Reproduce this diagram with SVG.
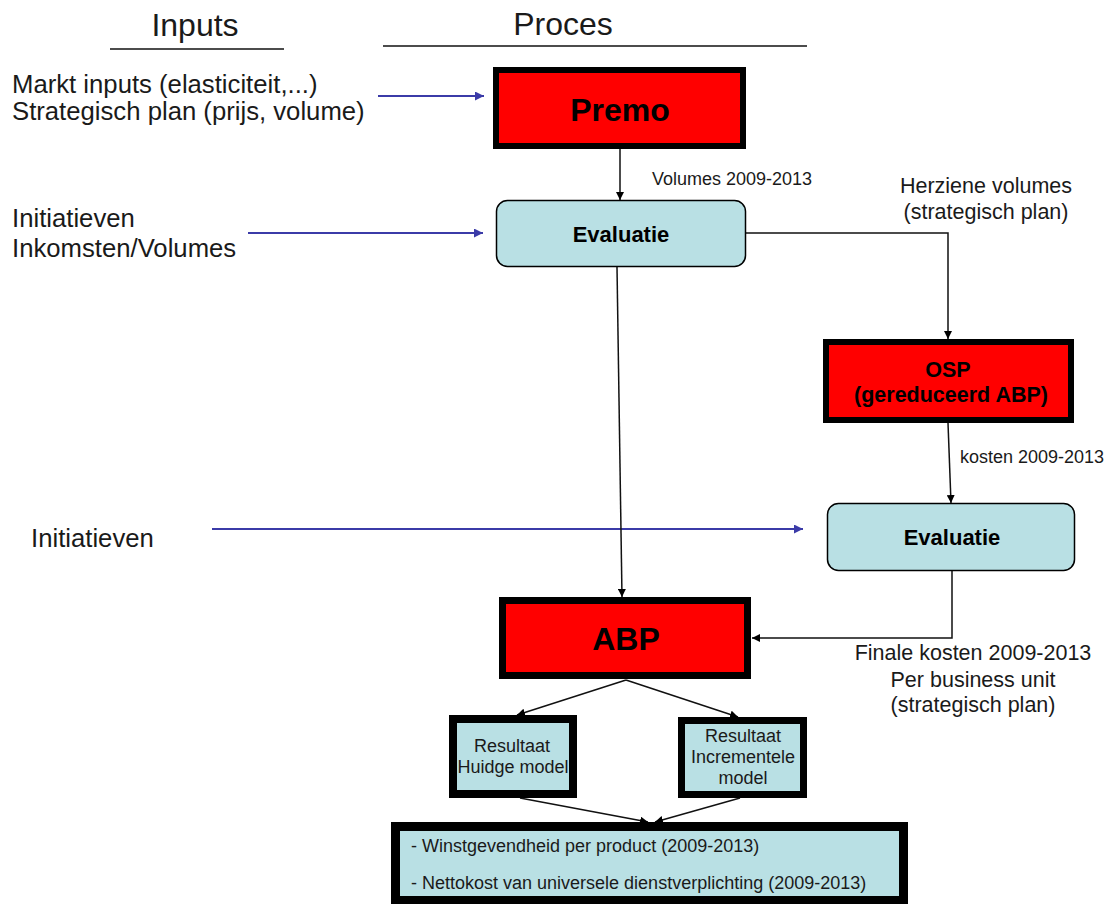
<svg xmlns="http://www.w3.org/2000/svg" width="1111" height="904" viewBox="0 0 1111 904">
<style>
text{font-family:"Liberation Sans",Arial,sans-serif;fill:#1a1a1a}
.h{font-size:32px}
.in{font-size:25.7px}
.lbl{font-size:21.5px}
.sm{font-size:18px}
.b{font-weight:bold;fill:#000}
.red{fill:#ff0000;stroke:#000}
.blue{fill:#b9e0e4;stroke:#000}
.con{fill:none;stroke:#111;stroke-width:1.5}
.bl{fill:none;stroke:#3b3ba8;stroke-width:2}
</style>
<defs>
<marker id="ah" viewBox="0 0 10 10" refX="10" refY="5" markerWidth="8" markerHeight="8" markerUnits="userSpaceOnUse" orient="auto"><path d="M0,0 L10,5 L0,10 z" fill="#000"/></marker>
<marker id="ab" viewBox="0 0 10 10" refX="10" refY="5" markerWidth="10" markerHeight="9" markerUnits="userSpaceOnUse" orient="auto"><path d="M0,0 L10,5 L0,10 z" fill="#3b3ba8"/></marker>
</defs>
<rect width="1111" height="904" fill="#fff"/>
<g id="headers">
<text class="h" x="195" y="36" text-anchor="middle">Inputs</text>
<line x1="110" y1="49" x2="284" y2="49" stroke="#111" stroke-width="1.5"/>
<text class="h" x="563" y="35" text-anchor="middle">Proces</text>
<line x1="383" y1="46" x2="807" y2="46" stroke="#111" stroke-width="1.5"/>
</g>
<g id="inputs">
<text class="in" x="12" y="93">Markt inputs (elasticiteit,...)</text>
<text class="in" x="12" y="120">Strategisch plan (prijs, volume)</text>
<text class="in" x="12" y="227">Initiatieven</text>
<text class="in" x="12" y="257">Inkomsten/Volumes</text>
<text class="in" x="31" y="547">Initiatieven</text>
</g>
<g id="connectors">
<line class="bl" x1="378" y1="96" x2="484" y2="96" marker-end="url(#ab)"/>
<line class="bl" x1="248" y1="233" x2="483" y2="233" marker-end="url(#ab)"/>
<line class="bl" x1="212" y1="529" x2="803" y2="529" marker-end="url(#ab)"/>
<line class="con" x1="620" y1="149" x2="620" y2="200" marker-end="url(#ah)"/>
<polyline class="con" points="746,233 948,233 948,339" marker-end="url(#ah)"/>
<line class="con" x1="617" y1="267" x2="622" y2="597" marker-end="url(#ah)"/>
<line class="con" x1="948" y1="423" x2="951" y2="503" marker-end="url(#ah)"/>
<polyline class="con" points="952,571 952,638 752,638" marker-end="url(#ah)"/>
<line class="con" x1="626" y1="680" x2="517" y2="715" marker-end="url(#ah)"/>
<line class="con" x1="626" y1="680" x2="738" y2="717" marker-end="url(#ah)"/>
<line class="con" x1="520" y1="798" x2="648" y2="822" marker-end="url(#ah)"/>
<line class="con" x1="740" y1="798" x2="655" y2="822" marker-end="url(#ah)"/>
<text class="sm" x="652" y="185">Volumes 2009-2013</text>
<text class="lbl" x="986" y="193" text-anchor="middle">Herziene volumes</text>
<text class="lbl" x="986" y="219" text-anchor="middle">(strategisch plan)</text>
<text class="sm" x="960" y="463">kosten 2009-2013</text>
<text class="lbl" x="973" y="660" text-anchor="middle">Finale kosten 2009-2013</text>
<text class="lbl" x="973" y="687" text-anchor="middle">Per business unit</text>
<text class="lbl" x="973" y="712" text-anchor="middle">(strategisch plan)</text>
</g>
<g id="premo">
<rect class="red" x="496" y="70" width="247" height="76" stroke-width="6"/>
<text class="b" x="620" y="121" text-anchor="middle" font-size="32">Premo</text>
</g>
<g id="evaluatie1">
<rect class="blue" x="496.5" y="200.5" width="249" height="66" rx="11" stroke-width="1.5"/>
<text class="b" x="621" y="242" text-anchor="middle" font-size="22">Evaluatie</text>
</g>
<g id="osp">
<rect class="red" x="826" y="342" width="245" height="78" stroke-width="6"/>
<text class="b" x="948" y="377" text-anchor="middle" font-size="21.5">OSP</text>
<text class="b" x="951" y="402" text-anchor="middle" font-size="21.5">(gereduceerd ABP)</text>
</g>
<g id="evaluatie2">
<rect class="blue" x="827.5" y="503.5" width="247" height="67" rx="11" stroke-width="1.5"/>
<text class="b" x="952" y="545" text-anchor="middle" font-size="22">Evaluatie</text>
</g>
<g id="abp">
<rect class="red" x="502.5" y="600.5" width="245" height="75" stroke-width="7"/>
<text class="b" x="626" y="650" text-anchor="middle" font-size="32">ABP</text>
</g>
<g id="resultaat-huidig">
<rect class="blue" x="453" y="719" width="120" height="75" stroke-width="8"/>
<text class="sm" x="512" y="752" text-anchor="middle">Resultaat</text>
<text class="sm" x="513" y="773" text-anchor="middle">Huidge model</text>
</g>
<g id="resultaat-incrementeel">
<rect class="blue" x="681.5" y="720.5" width="122" height="74" stroke-width="7"/>
<text class="sm" x="743" y="742" text-anchor="middle">Resultaat</text>
<text class="sm" x="743" y="763" text-anchor="middle">Incrementele</text>
<text class="sm" x="743" y="784" text-anchor="middle">model</text>
</g>
<g id="resultaten">
<rect class="blue" x="395.5" y="826.5" width="508" height="74" stroke-width="9"/>
<text class="sm" x="411" y="852">- Winstgevendheid per product (2009-2013)</text>
<text class="sm" x="411" y="889">- Nettokost van universele dienstverplichting (2009-2013)</text>
</g>
</svg>
